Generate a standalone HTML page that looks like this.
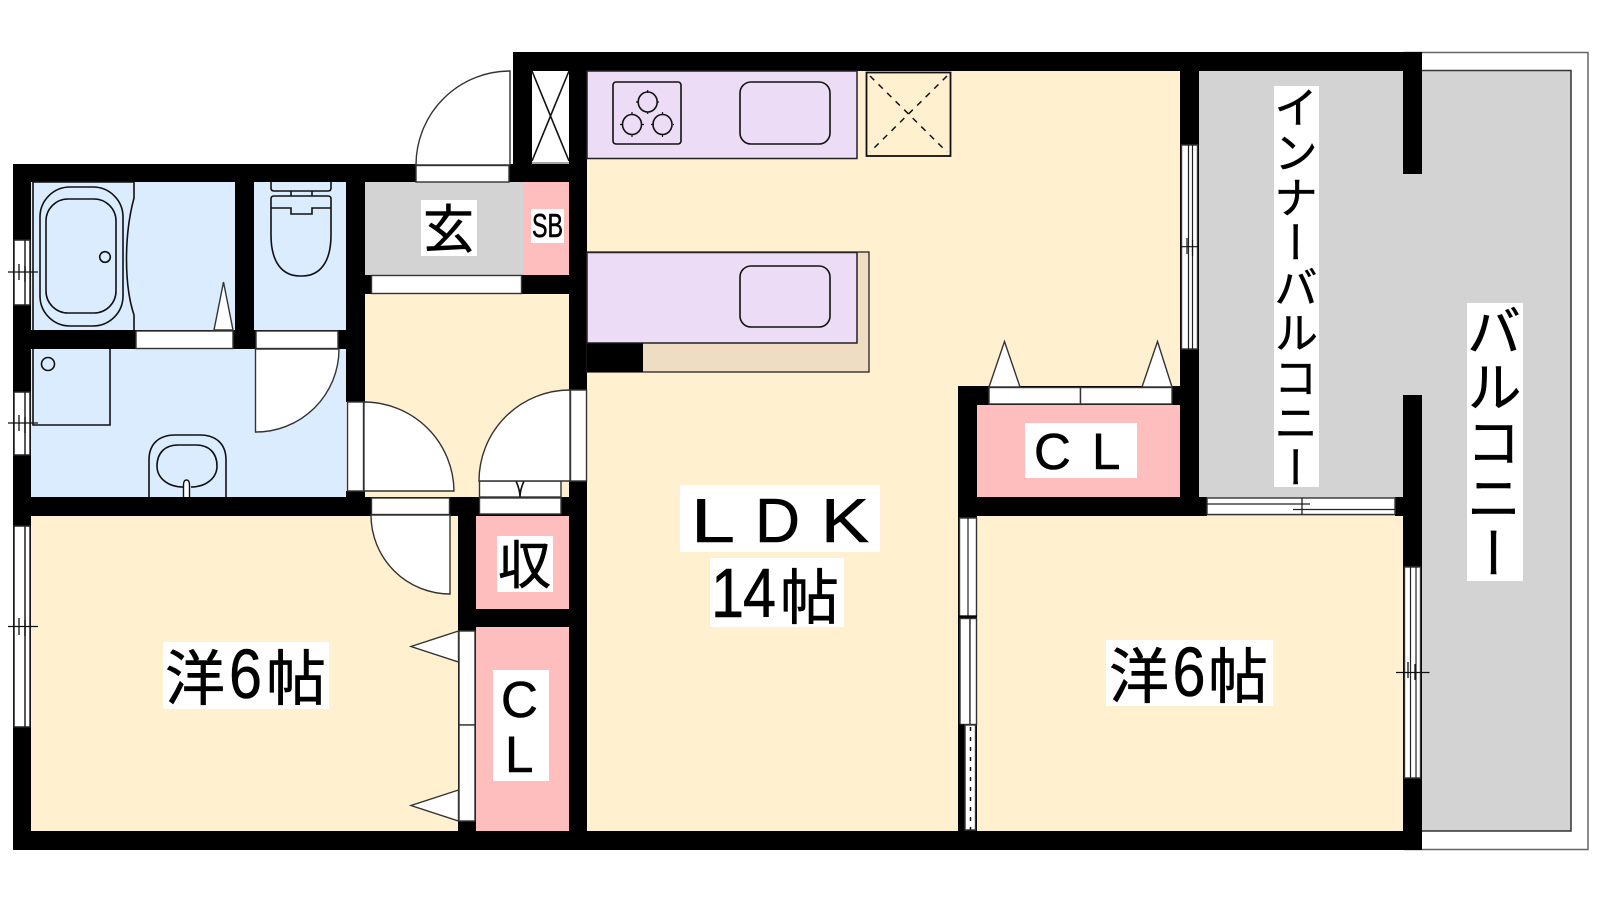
<!DOCTYPE html>
<html lang="ja"><head><meta charset="utf-8"><title>間取り図</title>
<style>
html,body{margin:0;padding:0;background:#fff;width:1600px;height:900px;overflow:hidden}
svg{position:absolute;left:0;top:0}
.v{position:absolute;background:#fff;font-family:"Liberation Sans","Noto Sans CJK JP",sans-serif;color:#000;white-space:nowrap;overflow:hidden}
.v span{position:absolute;writing-mode:vertical-rl;-webkit-text-stroke:.5px #000}
text{font-family:"Liberation Sans","Noto Sans CJK JP",sans-serif;fill:#000;stroke:#000;stroke-width:.6}
.l{fill:none;stroke:#111;stroke-width:1.6}
.w{fill:#fff;stroke:#333;stroke-width:1.4}
.k{fill:#000}
.lab{fill:#fff}
</style></head><body>
<svg width="1600" height="900" viewBox="0 0 1600 900" xmlns="http://www.w3.org/2000/svg">
<!-- balcony -->
<rect x="1405" y="52.5" width="183" height="797" fill="#fff" stroke="#666" stroke-width="1.5"/>
<rect x="1199" y="71" width="372" height="760" fill="#d3d3d3"/>
<path d="M1422 70.5H1571V831H1422" fill="none" stroke="#333" stroke-width="1.5"/>
<!-- rooms -->
<rect x="587" y="71" width="593" height="316" fill="#fff0d0"/>
<rect x="587" y="380" width="372" height="451" fill="#fff0d0"/>
<rect x="977" y="516" width="426" height="315" fill="#fff0d0"/>
<rect x="31" y="516" width="427" height="315" fill="#fff0d0"/>
<rect x="365" y="293" width="204" height="204" fill="#fff0d0"/>
<rect x="31" y="182" width="204" height="148" fill="#dbecff"/>
<rect x="254" y="182" width="92" height="148" fill="#dbecff"/>
<rect x="31" y="349" width="315" height="148" fill="#dbecff"/>
<rect x="365" y="182" width="158" height="93" fill="#d3d3d3"/>
<rect x="523" y="182" width="46" height="93" fill="#ffbebe"/>
<rect x="476" y="516" width="93" height="93" fill="#ffbebe"/>
<rect x="476" y="627" width="93" height="204" fill="#ffbebe"/>
<rect x="977" y="405" width="203" height="92" fill="#ffbebe"/>
<!-- walls -->
<g class="k">
<rect x="513" y="52" width="909" height="19"/>
<rect x="513" y="52" width="19" height="130"/>
<rect x="13" y="164" width="574" height="18"/>
<rect x="569" y="52" width="18" height="798"/>
<rect x="13" y="164" width="18" height="686"/>
<rect x="13" y="831" width="1409" height="19"/>
<rect x="235" y="164" width="19" height="185"/>
<rect x="346" y="164" width="19" height="238"/>
<rect x="13" y="330" width="352" height="19"/>
<rect x="13" y="497" width="458" height="19"/>
<rect x="346" y="491" width="19" height="8"/>
<rect x="458" y="497" width="18" height="353"/>
<rect x="449" y="497" width="127" height="19"/>
<rect x="458" y="609" width="111" height="18"/>
<rect x="365" y="275" width="8" height="19"/>
<rect x="522" y="275" width="47" height="19"/>
<rect x="1180" y="52" width="19" height="464"/>
<rect x="958" y="386" width="19" height="464"/>
<rect x="958" y="386" width="222" height="19"/>
<rect x="958" y="497" width="249" height="19"/>
<rect x="1403" y="52" width="19" height="122"/>
<rect x="1403" y="395" width="19" height="455"/>
<rect x="1395" y="497" width="27" height="19"/>
</g>
<!-- shaft -->
<rect x="532" y="71" width="37" height="91" fill="#fff"/>
<path class="l" d="M532 71L569 161M569 71L532 161"/>
<path d="M532 163H569" stroke="#888" stroke-width="1.5"/>
<!-- entrance door -->
<path class="w" d="M510 71A94 94 0 0 0 416 165H510Z"/>
<rect class="w" x="416" y="165.500" width="93" height="16.500"/>
<!-- genkan step -->
<rect class="w" x="371.500" y="275.500" width="150" height="18"/>
<!-- bath doors -->
<rect class="w" x="136" y="331" width="97" height="17.500"/>
<rect class="w" x="256" y="331" width="82" height="17.500"/>
<path class="w" d="M214 330L223.500 282L233 330Z"/>
<path class="w" d="M255.500 349H339A83 83 0 0 1 255.500 432Z"/>
<!-- bathtub -->
<path class="l" d="M33 182V330M33 182H134V198C124 235 124 285 134 315V330"/>
<rect class="l" x="40" y="187" width="83" height="139" rx="30"/>
<rect class="l" x="46" y="199" width="70" height="114" rx="22"/>
<circle class="l" cx="105" cy="257" r="5.300"/>
<!-- toilet -->
<path class="l" d="M271 182V188Q271 191 274 191H328Q331 191 331 188V182M291 191V196M312 191V196M274 196H328Q331 196 331 199V235C331 262 320 276 302 276H300C282 276 271 262 271 235V199Q271 196 274 196ZM271 208H291V214H312V208H331"/>
<!-- wash -->
<path class="l" d="M33 349V425H110V349"/>
<circle class="l" cx="48" cy="364" r="6.500"/>
<path class="l" d="M149 497V460C149 443 160 435 175 435H200C215 435 226 443 226 460V497"/>
<path class="l" d="M183 487C168 487 157 478 157 466C157 453 165 445 178 445H196C209 445 217 453 217 466C217 478 206 487 191 487"/>
<path d="M183.500 497V485Q183.500 480 186.500 480Q189.500 480 189.500 485V497" fill="#fff" stroke="#111" stroke-width="1.400"/>
<!-- hall doors -->
<rect class="w" x="347.500" y="402" width="16" height="89"/>
<path class="w" d="M364 402A90 90 0 0 1 454 491H364Z"/>
<rect class="w" x="479.500" y="481" width="81.500" height="16"/>
<rect class="w" x="479.500" y="498" width="81.500" height="16"/>
<path class="l" d="M516 481Q520 490 520 497Q520 490 524 481"/>
<path class="w" d="M570 390A91 91 0 0 0 479 481H570Z"/>
<rect class="w" x="570.500" y="390" width="16" height="91"/>
<rect class="w" x="371.500" y="498" width="78" height="16.500"/>
<path class="w" d="M371 515A79 79 0 0 0 450 594V515Z"/>
<!-- west closet -->
<rect class="w" x="459" y="631" width="16" height="94"/>
<rect class="w" x="459" y="725" width="16" height="96"/>
<path class="w" d="M458.500 631L411 646.500L458.500 662Z"/>
<path class="w" d="M458.500 790L411 805.500L458.500 821Z"/>
<!-- windows on left wall -->
<g fill="#fff" stroke="#222" stroke-width="1.500">
<rect x="14" y="240" width="16" height="65"/><path d="M25 240V305"/>
<rect x="14" y="392" width="16" height="63"/><path d="M25 392V455"/>
<rect x="14" y="526" width="16" height="201"/><path d="M25 526V727"/>
</g>
<g stroke="#111" stroke-width="1.300" fill="none">
<path d="M8 272H38M19 264V280M25 266V282"/>
<path d="M8 423H38M19 415V431M25 417V433"/>
<path d="M8 626.500H38M19 618V635M25 620V636"/>
</g>
<!-- kitchen -->
<rect x="587" y="71" width="270" height="87.500" fill="#ecdcf6" stroke="#222" stroke-width="1.500"/>
<rect class="l" x="613" y="82" width="68" height="62" rx="3"/>
<g class="l">
<ellipse cx="647.700" cy="102" rx="9.500" ry="10"/><ellipse cx="632" cy="124.500" rx="9.500" ry="10"/><ellipse cx="662.500" cy="124.500" rx="9.500" ry="10"/>
</g>
<path stroke="#111" stroke-width="1.200" d="M647.700 90V114M636 102H659M632 112V137M620 124.500H644M662.500 112V137M651 124.500H674" fill="none" stroke-dasharray="3 19"/>
<rect class="l" x="740" y="82" width="90" height="62" rx="11"/>
<rect x="866.500" y="72.500" width="84" height="83.500" fill="none" stroke="#111" stroke-width="1.800"/>
<path d="M870 76L947 152M947 76L870 152" stroke="#111" stroke-width="1.500" stroke-dasharray="6 6" fill="none"/>
<rect x="587" y="252" width="282" height="120" fill="#eedcc3" stroke="#222" stroke-width="1.300"/>
<rect x="587" y="252.500" width="270" height="90.500" fill="#ecdcf6" stroke="#222" stroke-width="1.500"/>
<rect class="k" x="587" y="343.500" width="56" height="28.500"/>
<rect class="l" x="740" y="266" width="90" height="61" rx="11"/>
<!-- NE closet -->
<rect class="w" x="989" y="387.500" width="91.500" height="16.500"/>
<rect class="w" x="1080.500" y="387.500" width="91.500" height="16.500"/>
<path class="w" d="M989 387L1004.500 341.500L1020 387Z"/>
<path class="w" d="M1142 387L1157.500 341.500L1172 387Z"/>
<!-- window LDK / inner balcony -->
<rect class="w" x="1181.500" y="145" width="16" height="204"/>
<path d="M1192.500 145V349M1188.500 145V349" stroke="#222" stroke-width="1.200"/>
<path d="M1181 246.700H1198M1187 238V254M1192.500 240V256" stroke="#111" stroke-width="1.200" fill="none"/>
<!-- window room / inner balcony -->
<rect class="w" x="1207" y="498" width="188" height="16.500"/>
<path d="M1207 504H1310M1293 509.500H1395M1302 498V515" stroke="#222" stroke-width="1.300" fill="none"/>
<!-- window room / balcony -->
<rect class="w" x="1404.500" y="567" width="16" height="211"/>
<path d="M1416 567V778M1410.500 567V778" stroke="#222" stroke-width="1.200"/>
<path d="M1396 672.500H1429.500M1408 662V678M1415 664V680" stroke="#111" stroke-width="1.300" fill="none"/>
<!-- LDK / west window -->
<rect class="w" x="959.500" y="518" width="17" height="98"/>
<path d="M968 518V616" stroke="#222" stroke-width="1.200"/>
<rect class="k" x="958" y="615.500" width="19" height="3"/>
<rect class="w" x="960" y="618.500" width="10" height="106"/>
<rect class="w" x="970" y="618.500" width="6.500" height="106"/>
<rect class="k" x="959" y="724.500" width="6" height="106"/>
<rect class="w" x="965" y="725" width="10.500" height="105"/>
<path d="M970.500 727V830" stroke="#111" stroke-width="1.500" stroke-dasharray="4 6"/>
<!-- labels -->
<rect class="lab" x="421" y="200" width="56" height="56"/>
<text x="423" y="248" font-size="52" textLength="51" lengthAdjust="spacingAndGlyphs">玄</text>
<rect class="lab" x="531" y="209" width="33" height="34"/>
<text x="532" y="237" font-size="33" textLength="31" lengthAdjust="spacingAndGlyphs">SB</text>
<rect class="lab" x="497" y="536" width="56" height="56"/>
<text x="498" y="584" font-size="52" textLength="53" lengthAdjust="spacingAndGlyphs">収</text>
<rect class="lab" x="493" y="670" width="56" height="111"/>
<text x="501" y="717" font-size="51">C</text>
<text x="505" y="772" font-size="51">L</text>
<rect class="lab" x="163" y="642" width="166" height="67"/>
<text x="165" y="700" font-size="60" textLength="60" lengthAdjust="spacingAndGlyphs">洋</text>
<text x="229" y="698" font-size="70" textLength="33" lengthAdjust="spacingAndGlyphs">6</text>
<text x="266" y="700" font-size="60" textLength="60" lengthAdjust="spacingAndGlyphs">帖</text>
<rect class="lab" x="1106" y="640" width="167" height="66"/>
<text x="1109" y="698" font-size="60" textLength="60" lengthAdjust="spacingAndGlyphs">洋</text>
<text x="1172.500" y="696" font-size="70" textLength="33" lengthAdjust="spacingAndGlyphs">6</text>
<text x="1208" y="698" font-size="60" textLength="60" lengthAdjust="spacingAndGlyphs">帖</text>
<rect class="lab" x="1025" y="423" width="112" height="55"/>
<text x="1034" y="469" font-size="51">C</text>
<text x="1092" y="469" font-size="51">L</text>
<rect class="lab" x="680" y="485" width="200" height="67"/>
<text x="691" y="542" font-size="62.500" textLength="44" lengthAdjust="spacingAndGlyphs">L</text>
<text x="755" y="542" font-size="62.500" textLength="45" lengthAdjust="spacingAndGlyphs">D</text>
<text x="821" y="542" font-size="62.500" textLength="48" lengthAdjust="spacingAndGlyphs">K</text>
<rect class="lab" x="710" y="558" width="134" height="69"/>
<text x="711" y="617" font-size="70" textLength="33" lengthAdjust="spacingAndGlyphs">1</text>
<text x="743" y="617" font-size="70" textLength="33" lengthAdjust="spacingAndGlyphs">4</text>
<text x="780" y="619" font-size="60" textLength="59" lengthAdjust="spacingAndGlyphs">帖</text>
</svg>
<div class="v" style="left:1274px;top:86px;width:45px;height:401px"><span style="left:-5px;top:-1px;font-size:44px;line-height:45px;letter-spacing:1px">インナーバルコニー</span></div>
<div class="v" style="left:1467px;top:303px;width:56px;height:278px"><span style="left:-6px;top:0;font-size:55px;line-height:56px;letter-spacing:.6px">バルコニー</span></div>
</body></html>
